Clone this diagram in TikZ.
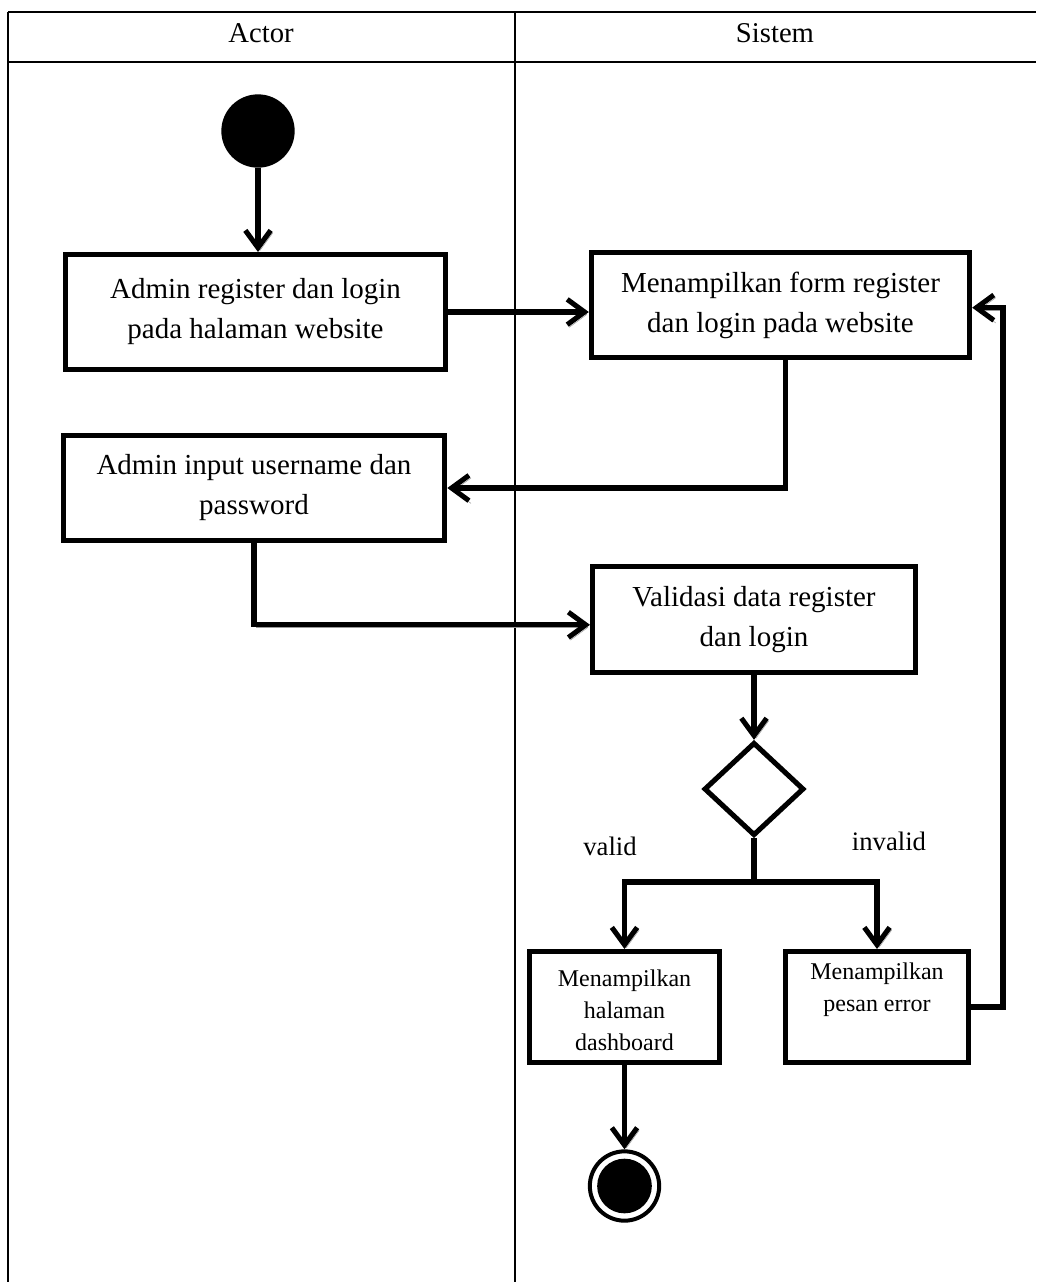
\documentclass[tikz,border=0pt]{standalone}
\usepackage{fontspec}
\setmainfont{Liberation Serif}
\usetikzlibrary{arrows.meta,shapes.geometric,calc}

\begin{document}
\begin{tikzpicture}[x=0.75pt,y=-0.75pt,
  frameline/.style={line width=2.2pt},
  laneline/.style={line width=1.6pt},
  head/.style={font=\fontsize{21.5}{26}\selectfont},
  act/.style={draw, rectangle, line width=4pt, align=center, inner sep=0pt,
    font=\fontsize{21.75}{30}\selectfont},
  smallact/.style={draw, rectangle, line width=4pt, inner sep=0pt},
  smalltext/.style={align=center, inner sep=0pt, font=\fontsize{18}{24}\selectfont},
  guard/.style={font=\fontsize{20}{24}\selectfont},
  flow/.style={line width=3.8pt, -{Straight Barb[length=13pt,width=19pt]},
    preaction={draw=black!40, transform canvas={shift={(1.5pt,-2pt)}}}},
  flowline/.style={line width=3.8pt,
    preaction={draw=black!40, transform canvas={shift={(1.5pt,-2pt)}}}},
]
\useasboundingbox (0,0) rectangle (1036,1282);

% swimlane table
\coordinate (tl) at (8,12);
\coordinate (tr) at (1036,12);
\coordinate (hl) at (8,62);
\coordinate (hr) at (1036,62);
\coordinate (bl) at (8,1282);
\coordinate (mt) at (515,12);
\coordinate (mb) at (515,1282);
\draw[frameline] (tl) -- (tr);
\draw[frameline] (hl) -- (hr);
\draw[frameline] (tl) -- (bl);
\draw[laneline] (mt) -- (mb);
\node[head] (hactor) at (261,33) {Actor};
\node[head] (hsys) at (775,33) {Sistem};

% initial node
\node[circle, fill=black, minimum size=55pt, inner sep=0pt] (start) at (258,131) {};

% activities
\node[act, minimum width=285pt, minimum height=86pt] (reg) at (255.5,312)
  {Admin register dan login\\pada halaman website};
\node[act, minimum width=283.5pt, minimum height=79pt] (form) at (780.5,305)
  {Menampilkan form register\\dan login pada website};
\node[act, minimum width=286pt, minimum height=79pt] (input) at (254,488)
  {Admin input username dan\\password};
\node[act, minimum width=242pt, minimum height=79.5pt] (valid) at (754,619.5)
  {Validasi data register\\dan login};
\node[draw, diamond, line width=3.8pt, minimum width=75pt, minimum height=70pt,
  inner sep=0pt] (dec) at (754,789) {};
\node[smallact, minimum width=142.5pt, minimum height=83pt] (ok) at (624.5,1007) {};
\node[smalltext] (oktext) at (624.5,1010) {Menampilkan\\halaman\\dashboard};
\node[smallact, minimum width=137pt, minimum height=83pt] (err) at (877,1007) {};
\node[smalltext, anchor=north] (errtext) at (877,963) {Menampilkan\\pesan error};

% final node
\node[circle, draw, line width=3pt, minimum size=52pt, inner sep=0pt] (end) at (624.5,1186) {};
\node[circle, fill=black, minimum size=41pt, inner sep=0pt] (endcore) at (end.center) {};

% guards
\node[guard] (gvalid) at (610,846) {valid};
\node[guard] (ginvalid) at (889,841) {invalid};

% control flow
\coordinate (split) at (754,882);
\coordinate (loop) at (1003,0);
\draw[flow] (start.south) -- (start.south |- reg.north);
\draw[flow] (reg.east) -- (reg.east -| form.west);
\draw[flow] ([xshift=3.75pt]form.south) |- (input.east);
\draw[flow] (input.south) |- ([yshift=-4pt]valid.west);
\draw[flow] (valid.south) -- (dec.north);
\draw[flowline] (dec.south) -- (split);
\draw[flow] (split) -| (ok.north);
\draw[flow] (split) -| (err.north);
\draw[flow] (err.east) -- (err.east -| loop) |- ([yshift=-2pt]form.east);
\draw[flow] (ok.south) -- (end.north);
\end{tikzpicture}
\end{document}
